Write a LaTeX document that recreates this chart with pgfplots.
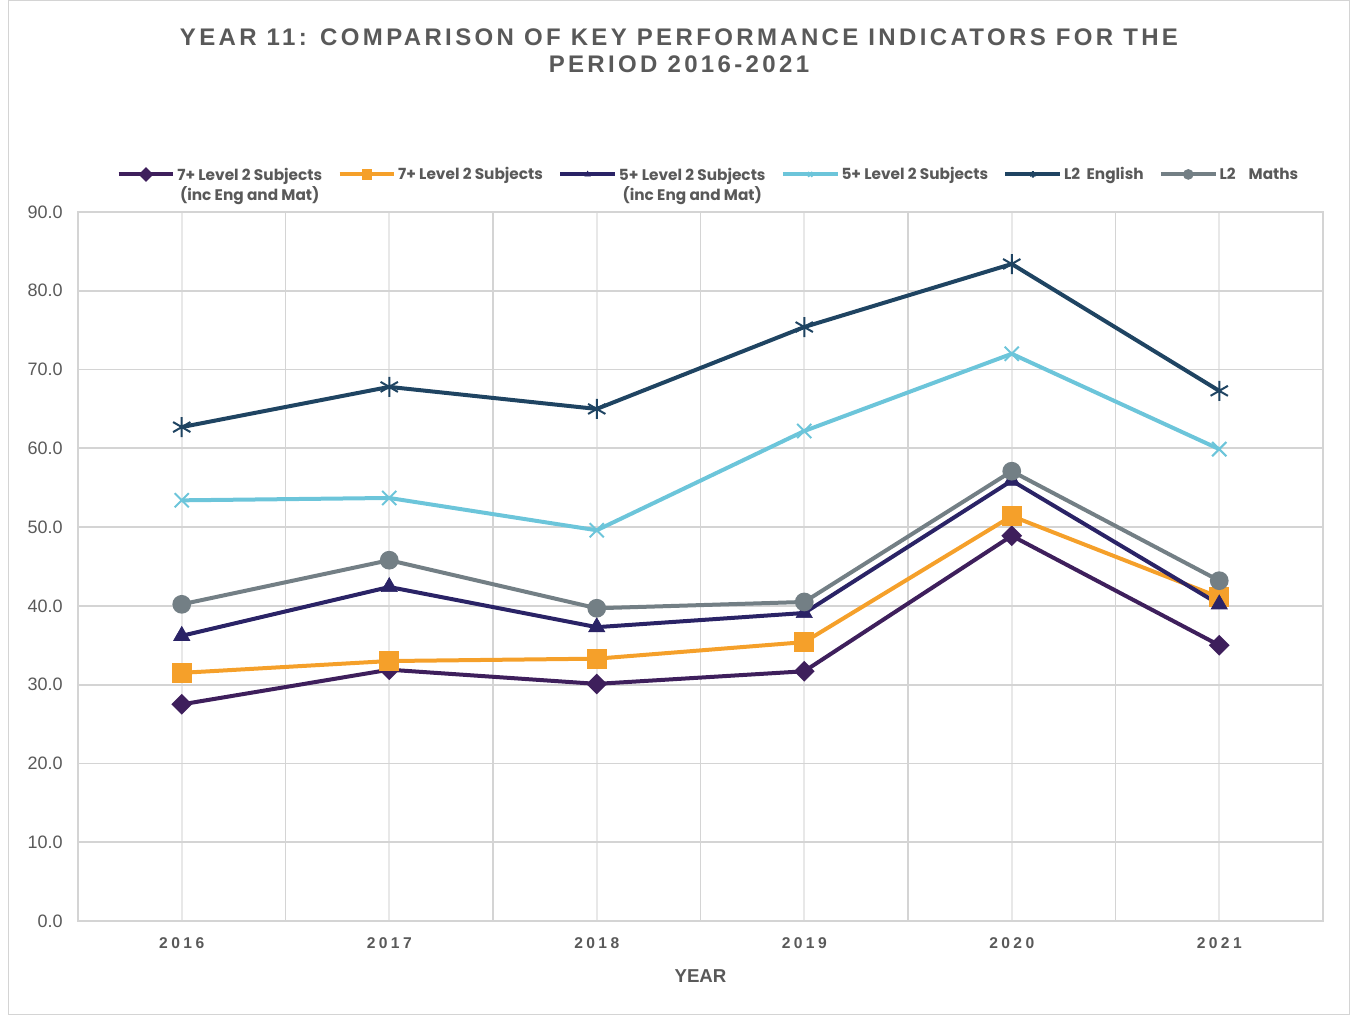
\documentclass[border=0pt]{standalone}
\usepackage{pgfplots}
\pgfplotsset{compat=1.18}
\usepackage{fontspec}
\setmainfont{Liberation Sans}
\newfontfamily\titlefont[LetterSpace=14]{Liberation Sans}
\newfontfamily\xtickfont[LetterSpace=22]{Liberation Sans}
\newfontfamily\legfont{Poppins}
\definecolor{txtgray}{HTML}{595959}
\definecolor{gridmaj}{HTML}{D4D4D4}
\definecolor{gridmin}{HTML}{E8E8E8}
\definecolor{cPurple}{HTML}{3E1F5C}
\definecolor{cOrange}{HTML}{F5A02A}
\definecolor{cNavy}{HTML}{2A2366}
\definecolor{cLight}{HTML}{6CC5DA}
\definecolor{cDark}{HTML}{1F4462}
\definecolor{cGray}{HTML}{737F85}
\begin{document}
\begin{tikzpicture}
\path[use as bounding box] (-58.5pt,-70.5pt) rectangle (957pt,690.75pt);
\draw[gridmaj,line width=0.75pt] (-52.125pt,-69.75pt) rectangle (953.625pt,690pt);
\node[font=\titlefont\bfseries\fontsize{18}{20.5}\selectfont,text=txtgray,align=center,anchor=north] at (450.75pt,673pt) {YEAR 11: COMPARISON OF KEY PERFORMANCE INDICATORS FOR THE\\PERIOD 2016-2021};
\begin{axis}[
  scale only axis, width=933.75pt, height=531.75pt,
  xmin=-0.5, xmax=5.5, ymin=0, ymax=90,
  xtick={0,1,2,3,4,5},
  xticklabels={2016,2017,2018,2019,2020,2021},
  minor xtick={0.5,1.5,2.5,3.5,4.5},
  ytick={0,10,...,90},
  xmajorgrids, xminorgrids, ymajorgrids,
  major x grid style={gridmin,line width=1.4pt},
  minor x grid style={gridmaj,line width=1.4pt},
  major y grid style={gridmaj,line width=1.4pt},
  axis line style={gridmaj,line width=1.4pt},
  major tick length=0pt, minor tick length=0pt,
  /pgf/number format/.cd, fixed, fixed zerofill, precision=1, assume math mode=true,
  /pgfplots/.cd,
  yticklabel style={font=\fontsize{13.5}{16}\selectfont, text=txtgray, xshift=-8pt},
  xticklabel style={font=\xtickfont\bfseries\fontsize{11.7}{13}\selectfont, text=txtgray, yshift=-9pt},
  xlabel={YEAR},
  xlabel style={font=\bfseries\fontsize{14}{16}\selectfont, text=txtgray, yshift=-9pt},
  legend columns=6,
  legend style={at={(0.5,1)}, anchor=south, yshift=18pt, xshift=6pt, draw=none, fill=none,
    font=\legfont\bfseries\fontsize{11.5}{15}\selectfont, text=txtgray,
    /tikz/every even column/.append style={column sep=10pt},
    /tikz/every odd column/.append style={column sep=0pt},
    nodes={inner xsep=1.5pt}},
  legend cell align=left,
  legend image code/.code={\draw[mark repeat=2,mark phase=2,#1] plot coordinates {(0cm,0cm) (0.72cm,0cm) (1.44cm,0cm)};},
  legend image post style={mark size=2.4pt, line width=3pt},
  every axis plot/.append style={line width=3pt},
]
\addplot[cPurple, mark=square*, mark size=4pt, mark options={rotate=45}] coordinates {(0,27.5) (1,31.9) (2,30.1) (3,31.7) (4,48.9) (5,35.0)};
\addlegendentry{\begin{tabular}[t]{@{}c@{}}7+ Level 2 Subjects\\(inc Eng and Mat)\end{tabular}}
\addplot[cOrange, mark=square*, mark size=6pt, mark options={solid}] coordinates {(0,31.5) (1,33.0) (2,33.3) (3,35.4) (4,51.4) (5,41.1)};
\addlegendentry{7+ Level 2 Subjects}
\addplot[cNavy, mark=triangle*, mark size=7pt, mark options={line width=0.5pt}] coordinates {(0,36.2) (1,42.4) (2,37.3) (3,39.1) (4,55.9) (5,40.2)};
\addlegendentry{\begin{tabular}[t]{@{}c@{}}5+ Level 2 Subjects\\(inc Eng and Mat)\end{tabular}}
\addplot[cLight, mark=x, mark size=7.5pt, mark options={line width=1.5pt}] coordinates {(0,53.4) (1,53.7) (2,49.6) (3,62.2) (4,72.0) (5,59.9)};
\addlegendentry{5+ Level 2 Subjects}
\addplot[cDark, mark=asterisk, mark size=7.5pt, mark options={line width=1.5pt}] coordinates {(0,62.7) (1,67.8) (2,65.0) (3,75.4) (4,83.4) (5,67.3)};
\addlegendentry{L2\ \ English}
\addplot[cGray, mark=*, mark size=5.5pt] coordinates {(0,40.2) (1,45.8) (2,39.7) (3,40.5) (4,57.1) (5,43.2)};
\addlegendentry{L2\ \ \ \ Maths}
\end{axis}
\end{tikzpicture}
\end{document}
